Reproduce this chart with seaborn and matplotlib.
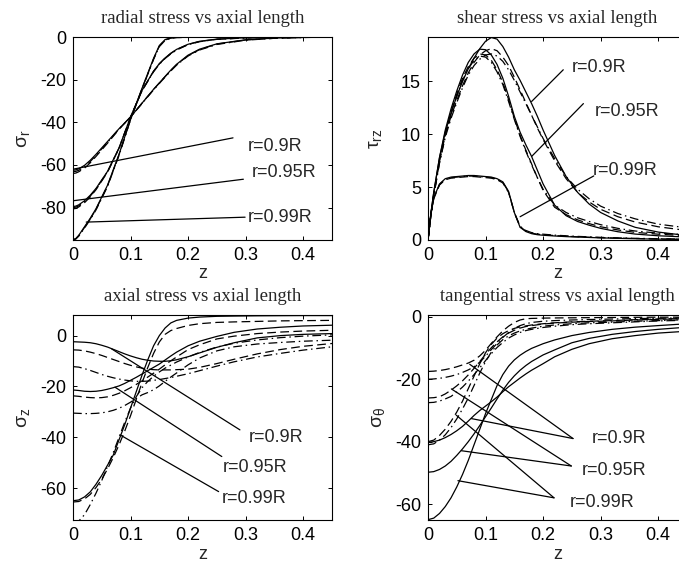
import matplotlib
matplotlib.use("Agg")
import matplotlib.pyplot as plt
import pandas as pd
import seaborn as sns

# ---------------- data ----------------
z_radial = [0, 0.005, 0.01, 0.02, 0.03, 0.04, 0.06, 0.08, 0.10, 0.12, 0.14, 0.15, 0.16,
            0.17, 0.18, 0.20, 0.22, 0.25, 0.30, 0.35, 0.40, 0.45]
radial_090_solid = [-62.5, -62.3, -61.8, -60.2, -57.8, -55.0, -49.0, -43.0, -37.5, -31.0, -24.5,
                    -21.5, -18.5, -15.5, -12.8, -8.5, -5.7, -3.2, -1.3, -0.5, -0.2, 0.0]
radial_090_dash = [-64.0, -63.8, -63.2, -61.5, -59.0, -56.0, -49.8, -43.3, -37.5, -31.0, -24.6,
                   -21.6, -18.6, -15.7, -13.0, -8.7, -5.9, -3.3, -1.4, -0.6, -0.2, 0.0]
radial_090_dashdot = [-63.2, -63.0, -62.5, -60.9, -58.4, -55.5, -49.4, -43.1, -37.5, -31.2, -24.8,
                      -21.8, -18.8, -15.9, -13.2, -8.9, -6.1, -3.5, -1.5, -0.6, -0.25, 0.0]
radial_095_solid = [-79.5, -79.3, -78.7, -76.8, -74.2, -71.0, -63.0, -52.0, -37.5, -25.0, -16.0,
                    -12.5, -9.8, -7.6, -5.8, -3.4, -2.0, -1.0, -0.35, -0.15, -0.05, 0.0]
radial_095_dash = [-80.6, -80.4, -79.7, -77.7, -75.0, -71.6, -63.4, -52.2, -37.5, -25.1, -16.1,
                   -12.6, -9.9, -7.7, -5.9, -3.5, -2.1, -1.05, -0.4, -0.15, -0.05, 0.0]
radial_095_dashdot = [-80.0, -79.8, -79.2, -77.2, -74.6, -71.3, -63.2, -52.1, -37.6, -25.2, -16.3,
                      -12.8, -10.1, -7.9, -6.1, -3.6, -2.2, -1.1, -0.45, -0.2, -0.08, 0.0]
radial_099_solid = [-95.2, -94.5, -93.0, -89.0, -85.0, -80.5, -69.5, -55.0, -38.5, -24.0, -10.0,
                    -4.0, -1.2, -0.4, -0.2, -0.1, -0.05, 0.0, 0.0, 0.0, 0.0, 0.0]
radial_099_dash = [-95.2, -94.6, -93.2, -89.3, -85.3, -80.8, -69.8, -55.2, -38.6, -24.2, -10.3,
                   -4.3, -1.4, -0.5, -0.25, -0.1, -0.05, 0.0, 0.0, 0.0, 0.0, 0.0]
radial_099_dashdot = [-95.2, -94.7, -93.4, -89.6, -85.6, -81.1, -70.1, -55.5, -38.8, -24.4, -10.5,
                      -4.5, -1.6, -0.6, -0.3, -0.12, -0.06, 0.0, 0.0, 0.0, 0.0, 0.0]

z_shear = [0, 0.005, 0.01, 0.02, 0.03, 0.04, 0.05, 0.06, 0.07, 0.08, 0.09, 0.10, 0.11, 0.12,
           0.13, 0.14, 0.15, 0.16, 0.17, 0.18, 0.19, 0.20, 0.22, 0.24, 0.26, 0.28, 0.30, 0.33,
           0.36, 0.40, 0.45]
shear_090_solid = [0, 2.5, 4.5, 7.8, 10.2, 12.0, 13.6, 15.0, 16.2, 17.2, 18.1, 18.8, 19.15, 19.0,
                   18.3, 17.3, 16.1, 15.1, 14.0, 12.9, 11.7, 10.4, 8.0, 6.0, 4.5, 3.4, 2.6, 1.8,
                   1.2, 0.75, 0.42]
shear_090_dash = [0, 2.4, 4.3, 7.5, 9.9, 11.7, 13.2, 14.6, 15.8, 16.8, 17.5, 17.9, 18.1, 17.9,
                  17.3, 16.5, 15.4, 14.2, 13.0, 11.8, 10.6, 9.5, 7.5, 5.8, 4.5, 3.6, 2.9, 2.2,
                  1.7, 1.25, 0.9]
shear_090_dashdot = [0, 2.3, 4.2, 7.3, 9.7, 11.5, 13.0, 14.4, 15.6, 16.5, 17.1, 17.5, 17.6, 17.4,
                     16.9, 16.1, 15.1, 14.0, 12.9, 11.8, 10.7, 9.6, 7.7, 6.0, 4.8, 3.9, 3.2, 2.5,
                     2.0, 1.5, 1.15]
shear_095_solid = [0, 2.5, 4.5, 7.8, 10.4, 12.4, 14.1, 15.6, 16.8, 17.6, 18.05, 18.0, 17.5, 16.6,
                   15.3, 13.6, 11.7, 10.2, 9.0, 7.9, 6.6, 5.3, 3.3, 2.3, 1.75, 1.4, 1.1, 0.78,
                   0.56, 0.4, 0.28]
shear_095_dash = [0, 2.4, 4.3, 7.5, 10.1, 12.1, 13.8, 15.3, 16.4, 17.2, 17.6, 17.5, 17.0, 16.1,
                  14.9, 13.3, 11.5, 9.9, 8.5, 7.2, 5.9, 4.7, 3.1, 2.4, 1.9, 1.55, 1.25, 0.95,
                  0.72, 0.55, 0.4]
shear_095_dashdot = [0, 2.3, 4.2, 7.3, 9.9, 11.9, 13.6, 15.1, 16.2, 17.0, 17.4, 17.3, 16.8, 15.9,
                     14.7, 13.1, 11.4, 9.8, 8.4, 7.1, 5.9, 4.8, 3.3, 2.6, 2.1, 1.75, 1.45, 1.1,
                     0.85, 0.65, 0.5]
shear_099_solid = [0, 2.5, 4.0, 5.3, 5.8, 5.95, 6.0, 6.05, 6.1, 6.1, 6.05, 6.0, 5.95, 5.8, 5.5,
                   4.6, 2.6, 1.2, 0.8, 0.6, 0.5, 0.45, 0.38, 0.32, 0.28, 0.24, 0.2, 0.16, 0.12,
                   0.08, 0.05]
shear_099_dash = [0, 2.4, 3.9, 5.2, 5.7, 5.85, 5.9, 5.95, 6.0, 6.0, 5.95, 5.9, 5.85, 5.7, 5.4,
                  4.5, 2.6, 1.25, 0.85, 0.65, 0.55, 0.5, 0.42, 0.36, 0.3, 0.26, 0.22, 0.18, 0.14,
                  0.1, 0.07]
shear_099_dashdot = [0, 2.4, 3.95, 5.25, 5.75, 5.9, 5.95, 6.0, 6.05, 6.05, 6.0, 5.95, 5.9, 5.75,
                     5.45, 4.55, 2.6, 1.3, 0.9, 0.7, 0.6, 0.55, 0.46, 0.4, 0.34, 0.3, 0.25, 0.2,
                     0.16, 0.12, 0.09]

z_axial = [0, 0.01, 0.02, 0.03, 0.04, 0.05, 0.06, 0.07, 0.08, 0.09, 0.10, 0.11, 0.12, 0.13,
           0.14, 0.15, 0.16, 0.17, 0.18, 0.20, 0.22, 0.25, 0.28, 0.32, 0.36, 0.40, 0.45]
axial_090_solid = [-2.4, -2.5, -2.6, -2.8, -3.2, -3.8, -4.5, -5.4, -6.3, -7.2, -8.0, -8.7, -9.3,
                   -9.7, -10.0, -10.1, -10.1, -9.9, -9.5, -8.3, -6.8, -4.6, -2.8, -0.9, 0.0, 0.5, 0.8]
axial_090_dash = [-5.6, -5.7, -6.0, -6.5, -7.1, -7.8, -8.6, -9.4, -10.2, -11.0, -11.7, -12.3,
                  -12.8, -13.2, -13.4, -13.5, -13.5, -13.5, -13.4, -13.2, -12.5, -11.0, -9.3, -7.2,
                  -5.5, -4.2, -3.1]
axial_090_dashdot = [-12.2, -12.4, -13.0, -13.7, -14.5, -15.3, -16.0, -16.6, -17.1, -17.5, -17.8,
                     -18.0, -18.0, -17.9, -17.6, -17.3, -16.9, -16.5, -16.0, -15.0, -13.8, -12.0,
                     -10.3, -8.4, -7.0, -5.7, -4.4]
axial_095_solid = [-21.4, -21.6, -21.9, -22.0, -21.9, -21.6, -21.1, -20.5, -19.8, -18.8, -17.6,
                   -16.4, -15.1, -13.8, -12.5, -11.2, -9.6, -8.0, -6.5, -4.0, -2.2, -0.3, 1.3, 2.6,
                   3.3, 3.8, 4.1]
axial_095_dash = [-23.7, -23.9, -24.2, -24.4, -24.5, -24.4, -24.1, -23.5, -22.7, -21.7, -20.5,
                  -19.2, -17.8, -16.3, -14.8, -13.2, -11.5, -9.9, -8.4, -5.5, -3.6, -1.3, -0.2,
                  0.8, 1.4, 1.8, 2.1]
axial_095_dashdot = [-30.5, -30.6, -30.7, -30.7, -30.6, -30.4, -30.0, -29.4, -28.6, -27.5, -26.2,
                     -24.7, -23.3, -22.4, -21.3, -19.8, -18.0, -16.3, -14.7, -11.5, -8.8, -6.0,
                     -4.4, -3.3, -2.7, -2.2, -1.8]
axial_099_solid = [-65.0, -64.7, -63.5, -61.5, -58.5, -55.0, -51.0, -47.0, -41.0, -35.0, -28.5,
                   -22.0, -15.5, -9.5, -4.0, 0.0, 3.0, 5.0, 6.0, 6.9, 7.3, 7.6, 7.7, 7.8, 7.85,
                   7.9, 7.9]
axial_099_dash = [-65.5, -65.3, -64.3, -62.5, -59.8, -56.5, -52.5, -48.0, -43.0, -37.5, -31.5,
                  -25.0, -18.5, -12.5, -7.0, -2.5, 0.5, 2.0, 2.8, 4.0, 4.7, 5.2, 5.4, 5.6, 5.8,
                  5.9, 6.0]
axial_099_dashdot = [-74.0, -73.0, -70.5, -66.5, -62.0, -57.0, -51.5, -46.0, -40.0, -34.0, -28.5,
                     -24.0, -20.5, -18.0, -16.0, -14.3, -12.8, -11.6, -10.4, -8.4, -6.6, -4.5,
                     -3.0, -1.7, -0.8, -0.2, 0.3]

z_tang = [0, 0.01, 0.02, 0.03, 0.04, 0.05, 0.06, 0.07, 0.08, 0.09, 0.10, 0.11, 0.12, 0.13,
          0.14, 0.15, 0.16, 0.17, 0.18, 0.20, 0.22, 0.25, 0.28, 0.32, 0.36, 0.40, 0.45]
tang_090_solid = [-40.2, -40.0, -39.5, -38.7, -37.7, -36.5, -35.1, -33.4, -31.6, -30.0, -28.6,
                  -27.2, -25.7, -24.0, -22.4, -21.0, -19.6, -18.3, -17.1, -15.0, -12.8, -10.4,
                  -8.6, -7.0, -6.0, -5.2, -4.6]
tang_090_dash = [-17.5, -17.4, -17.2, -16.9, -16.5, -16.0, -15.4, -14.8, -13.9, -12.5, -10.7,
                 -8.5, -6.4, -4.5, -3.0, -1.8, -1.0, -0.6, -0.5, -0.4, -0.35, -0.3, -0.25, -0.2,
                 -0.15, -0.1, -0.1]
tang_090_dashdot = [-20.0, -19.9, -19.7, -19.4, -19.0, -18.5, -17.8, -17.0, -16.0, -14.5, -12.6,
                    -10.5, -8.5, -6.6, -5.0, -3.7, -2.8, -2.2, -1.8, -1.4, -1.2, -1.0, -0.85, -0.7,
                    -0.55, -0.45, -0.3]
tang_095_solid = [-49.8, -49.6, -48.9, -47.8, -46.3, -44.4, -42.3, -40.0, -37.5, -34.8, -32.0,
                  -29.2, -26.3, -23.5, -21.0, -18.9, -17.1, -15.6, -14.3, -12.2, -10.6, -8.3,
                  -6.9, -5.6, -4.7, -4.0, -3.3]
tang_095_dash = [-26.0, -25.9, -25.6, -24.7, -23.5, -22.1, -20.5, -18.6, -16.5, -14.3, -12.0,
                 -9.9, -8.0, -6.4, -5.2, -4.3, -3.6, -3.1, -2.8, -2.3, -2.0, -1.7, -1.5, -1.3,
                 -1.0, -0.8, -0.6]
tang_095_dashdot = [-27.5, -27.4, -27.0, -26.3, -25.5, -24.1, -22.5, -20.6, -18.5, -16.3, -14.0,
                    -11.8, -9.8, -8.2, -6.8, -5.8, -5.0, -4.4, -4.0, -3.4, -3.0, -2.5, -2.2, -1.9,
                    -1.6, -1.3, -1.1]
tang_099_solid = [-65.0, -64.5, -63.0, -60.8, -58.0, -54.5, -50.5, -46.0, -41.0, -36.0, -31.0,
                  -26.5, -22.0, -18.5, -15.8, -13.8, -12.3, -11.1, -10.1, -8.6, -7.4, -6.0, -5.0,
                  -4.0, -3.3, -2.8, -2.2]
tang_099_dash = [-40.0, -39.5, -38.0, -36.0, -33.5, -30.5, -27.0, -23.0, -19.0, -15.0, -11.5,
                 -8.8, -6.8, -5.4, -4.4, -3.7, -3.2, -2.9, -2.6, -2.2, -1.9, -1.6, -1.4, -1.2,
                 -0.9, -0.7, -0.5]
tang_099_dashdot = [-41.0, -40.7, -39.5, -37.8, -35.5, -32.7, -29.5, -26.0, -22.0, -18.0, -14.3,
                    -11.3, -9.0, -7.3, -6.1, -5.2, -4.5, -4.0, -3.6, -3.0, -2.6, -2.2, -1.9, -1.7,
                    -1.4, -1.2, -0.9]

radii = ["r=0.9R", "r=0.95R", "r=0.99R"]
titles = ["radial stress vs axial length", "shear stress vs axial length",
          "axial stress vs axial length", "tangential stress vs axial length"]
ylabels = [r"$\sigma_r$", r"$\tau_{rz}$", r"$\sigma_z$", r"$\sigma_\theta$"]
xticks = [0, 0.1, 0.2, 0.3, 0.4]
xticklabels = ["0", "0.1", "0.2", "0.3", "0.4"]
yticks_radial = [-80, -60, -40, -20, 0]
yticks_shear = [0, 5, 10, 15]
yticks_axial = [-60, -40, -20, 0]
yticks_tang = [-60, -40, -20, 0]

# ---------------- style ----------------
sns.set_style("ticks")
plt.rcParams["font.family"] = ["Liberation Sans", "DejaVu Sans"]
plt.rcParams["axes.unicode_minus"] = False
plt.rcParams["mathtext.fontset"] = "custom"
plt.rcParams["mathtext.rm"] = "Liberation Sans"
plt.rcParams["mathtext.it"] = "Liberation Sans"
plt.rcParams["mathtext.default"] = "regular"

LW = 0.9
DASHES = {"solid": "", "dash": (7, 3.5), "dashdot": (7, 3, 1.2, 3)}


def frame(z, groups):
    rows = []
    for r, model, vals in groups:
        for zi, vi in zip(z, vals):
            rows.append({"z": zi, "v": vi, "series": r + model, "model": model})
    return pd.DataFrame(rows)


def panel(ax, z, groups, ylim, yticks, title, ylabel, labelpad):
    df = frame(z, groups)
    sns.lineplot(data=df, x="z", y="v", units="series", style="model", estimator=None,
                 dashes=DASHES, color="k", lw=LW, legend=False, sort=False, ax=ax)
    ax.set_xlim(0, 0.45)
    ax.set_ylim(*ylim)
    ax.set_xticks(xticks)
    ax.set_xticklabels(xticklabels)
    ax.set_yticks(yticks)
    ax.set_yticklabels([str(t) for t in yticks])
    ax.tick_params(direction="in", length=3, width=0.7, top=True, right=True,
                   labelsize=13, pad=5, colors="k")
    for s in ax.spines.values():
        s.set_linewidth(0.8)
        s.set_color("k")
    ax.set_title(title, fontfamily="Liberation Serif", fontsize=13.5, pad=10)
    ax.set_xlabel("z", fontsize=13, labelpad=1)
    ax.set_ylabel(ylabel, fontsize=14, labelpad=labelpad)


def lab(ax, text, pos):
    ax.text(pos[0], pos[1], text, ha="left", va="center", fontsize=13)


def lead(ax, p0, p1):
    ax.plot([p0[0], p1[0]], [p0[1], p1[1]], color="k", lw=LW)


fig = plt.figure(figsize=(6.79, 5.66), dpi=100)
W = 259 / 679
ax1 = fig.add_axes([73 / 679, (566 - 240) / 566, W, 203 / 566])
ax2 = fig.add_axes([428 / 679, (566 - 240) / 566, W, 203 / 566])
ax3 = fig.add_axes([73 / 679, (566 - 520.3) / 566, W, 205 / 566])
ax4 = fig.add_axes([428 / 679, (566 - 520.3) / 566, W, 205 / 566])

panel(ax1, z_radial, [
    ("0.9", "dash", radial_090_dash), ("0.9", "dashdot", radial_090_dashdot), ("0.9", "solid", radial_090_solid),
    ("0.95", "dash", radial_095_dash), ("0.95", "dashdot", radial_095_dashdot), ("0.95", "solid", radial_095_solid),
    ("0.99", "dash", radial_099_dash), ("0.99", "dashdot", radial_099_dashdot), ("0.99", "solid", radial_099_solid),
], (-95.2, 0), yticks_radial, titles[0], ylabels[0], 6)

panel(ax2, z_shear, [
    ("0.9", "dash", shear_090_dash), ("0.9", "dashdot", shear_090_dashdot), ("0.9", "solid", shear_090_solid),
    ("0.95", "dash", shear_095_dash), ("0.95", "dashdot", shear_095_dashdot), ("0.95", "solid", shear_095_solid),
    ("0.99", "dash", shear_099_dash), ("0.99", "dashdot", shear_099_dashdot), ("0.99", "solid", shear_099_solid),
], (0, 19.2), yticks_shear, titles[1], ylabels[1], 12)

panel(ax3, z_axial, [
    ("0.9", "dash", axial_090_dash), ("0.9", "dashdot", axial_090_dashdot), ("0.9", "solid", axial_090_solid),
    ("0.95", "dash", axial_095_dash), ("0.95", "dashdot", axial_095_dashdot), ("0.95", "solid", axial_095_solid),
    ("0.99", "dash", axial_099_dash), ("0.99", "dashdot", axial_099_dashdot), ("0.99", "solid", axial_099_solid),
], (-72.7, 8), yticks_axial, titles[2], ylabels[2], 6)

panel(ax4, z_tang, [
    ("0.9", "dash", tang_090_dash), ("0.9", "dashdot", tang_090_dashdot), ("0.9", "solid", tang_090_solid),
    ("0.95", "dash", tang_095_dash), ("0.95", "dashdot", tang_095_dashdot), ("0.95", "solid", tang_095_solid),
    ("0.99", "dash", tang_099_dash), ("0.99", "dashdot", tang_099_dashdot), ("0.99", "solid", tang_099_solid),
], (-65.2, 0.5), yticks_tang, titles[3], ylabels[3], 6)

# annotations: radial
lab(ax1, radii[0], (0.304, -51.5)); lead(ax1, (0.278, -47.3), (0.0, -62.0))
lab(ax1, radii[1], (0.311, -63.7)); lead(ax1, (0.296, -66.7), (0.0, -76.8))
lab(ax1, radii[2], (0.303, -84.8)); lead(ax1, (0.299, -84.5), (0.023, -86.8))
# shear
lab(ax2, radii[0], (0.25, 16.3)); lead(ax2, (0.235, 16.1), (0.18, 13.1))
lab(ax2, radii[1], (0.29, 12.2)); lead(ax2, (0.27, 12.9), (0.18, 7.9))
lab(ax2, radii[2], (0.286, 6.6)); lead(ax2, (0.288, 6.06), (0.16, 2.2))
# axial
lab(ax3, radii[0], (0.305, -40.3)); lead(ax3, (0.29, -37.1), (0.067, -5.2))
lab(ax3, radii[1], (0.26, -52.1)); lead(ax3, (0.2585, -47.6), (0.073, -20.3))
lab(ax3, radii[2], (0.2585, -64.3)); lead(ax3, (0.253, -61.4), (0.082, -39.1))
# tangential
lab(ax4, radii[0], (0.284, -39.1))
lead(ax4, (0.252, -39.0), (0.0725, -15.2)); lead(ax4, (0.252, -39.0), (0.0753, -32.6))
lab(ax4, radii[1], (0.268, -49.3))
lead(ax4, (0.249, -47.8), (0.0406, -23.1)); lead(ax4, (0.249, -47.8), (0.058, -42.9))
lab(ax4, radii[2], (0.246, -59.5))
lead(ax4, (0.219, -58.0), (0.049, -31.5)); lead(ax4, (0.219, -58.0), (0.052, -52.5))

fig.savefig("out.png", dpi=100)
